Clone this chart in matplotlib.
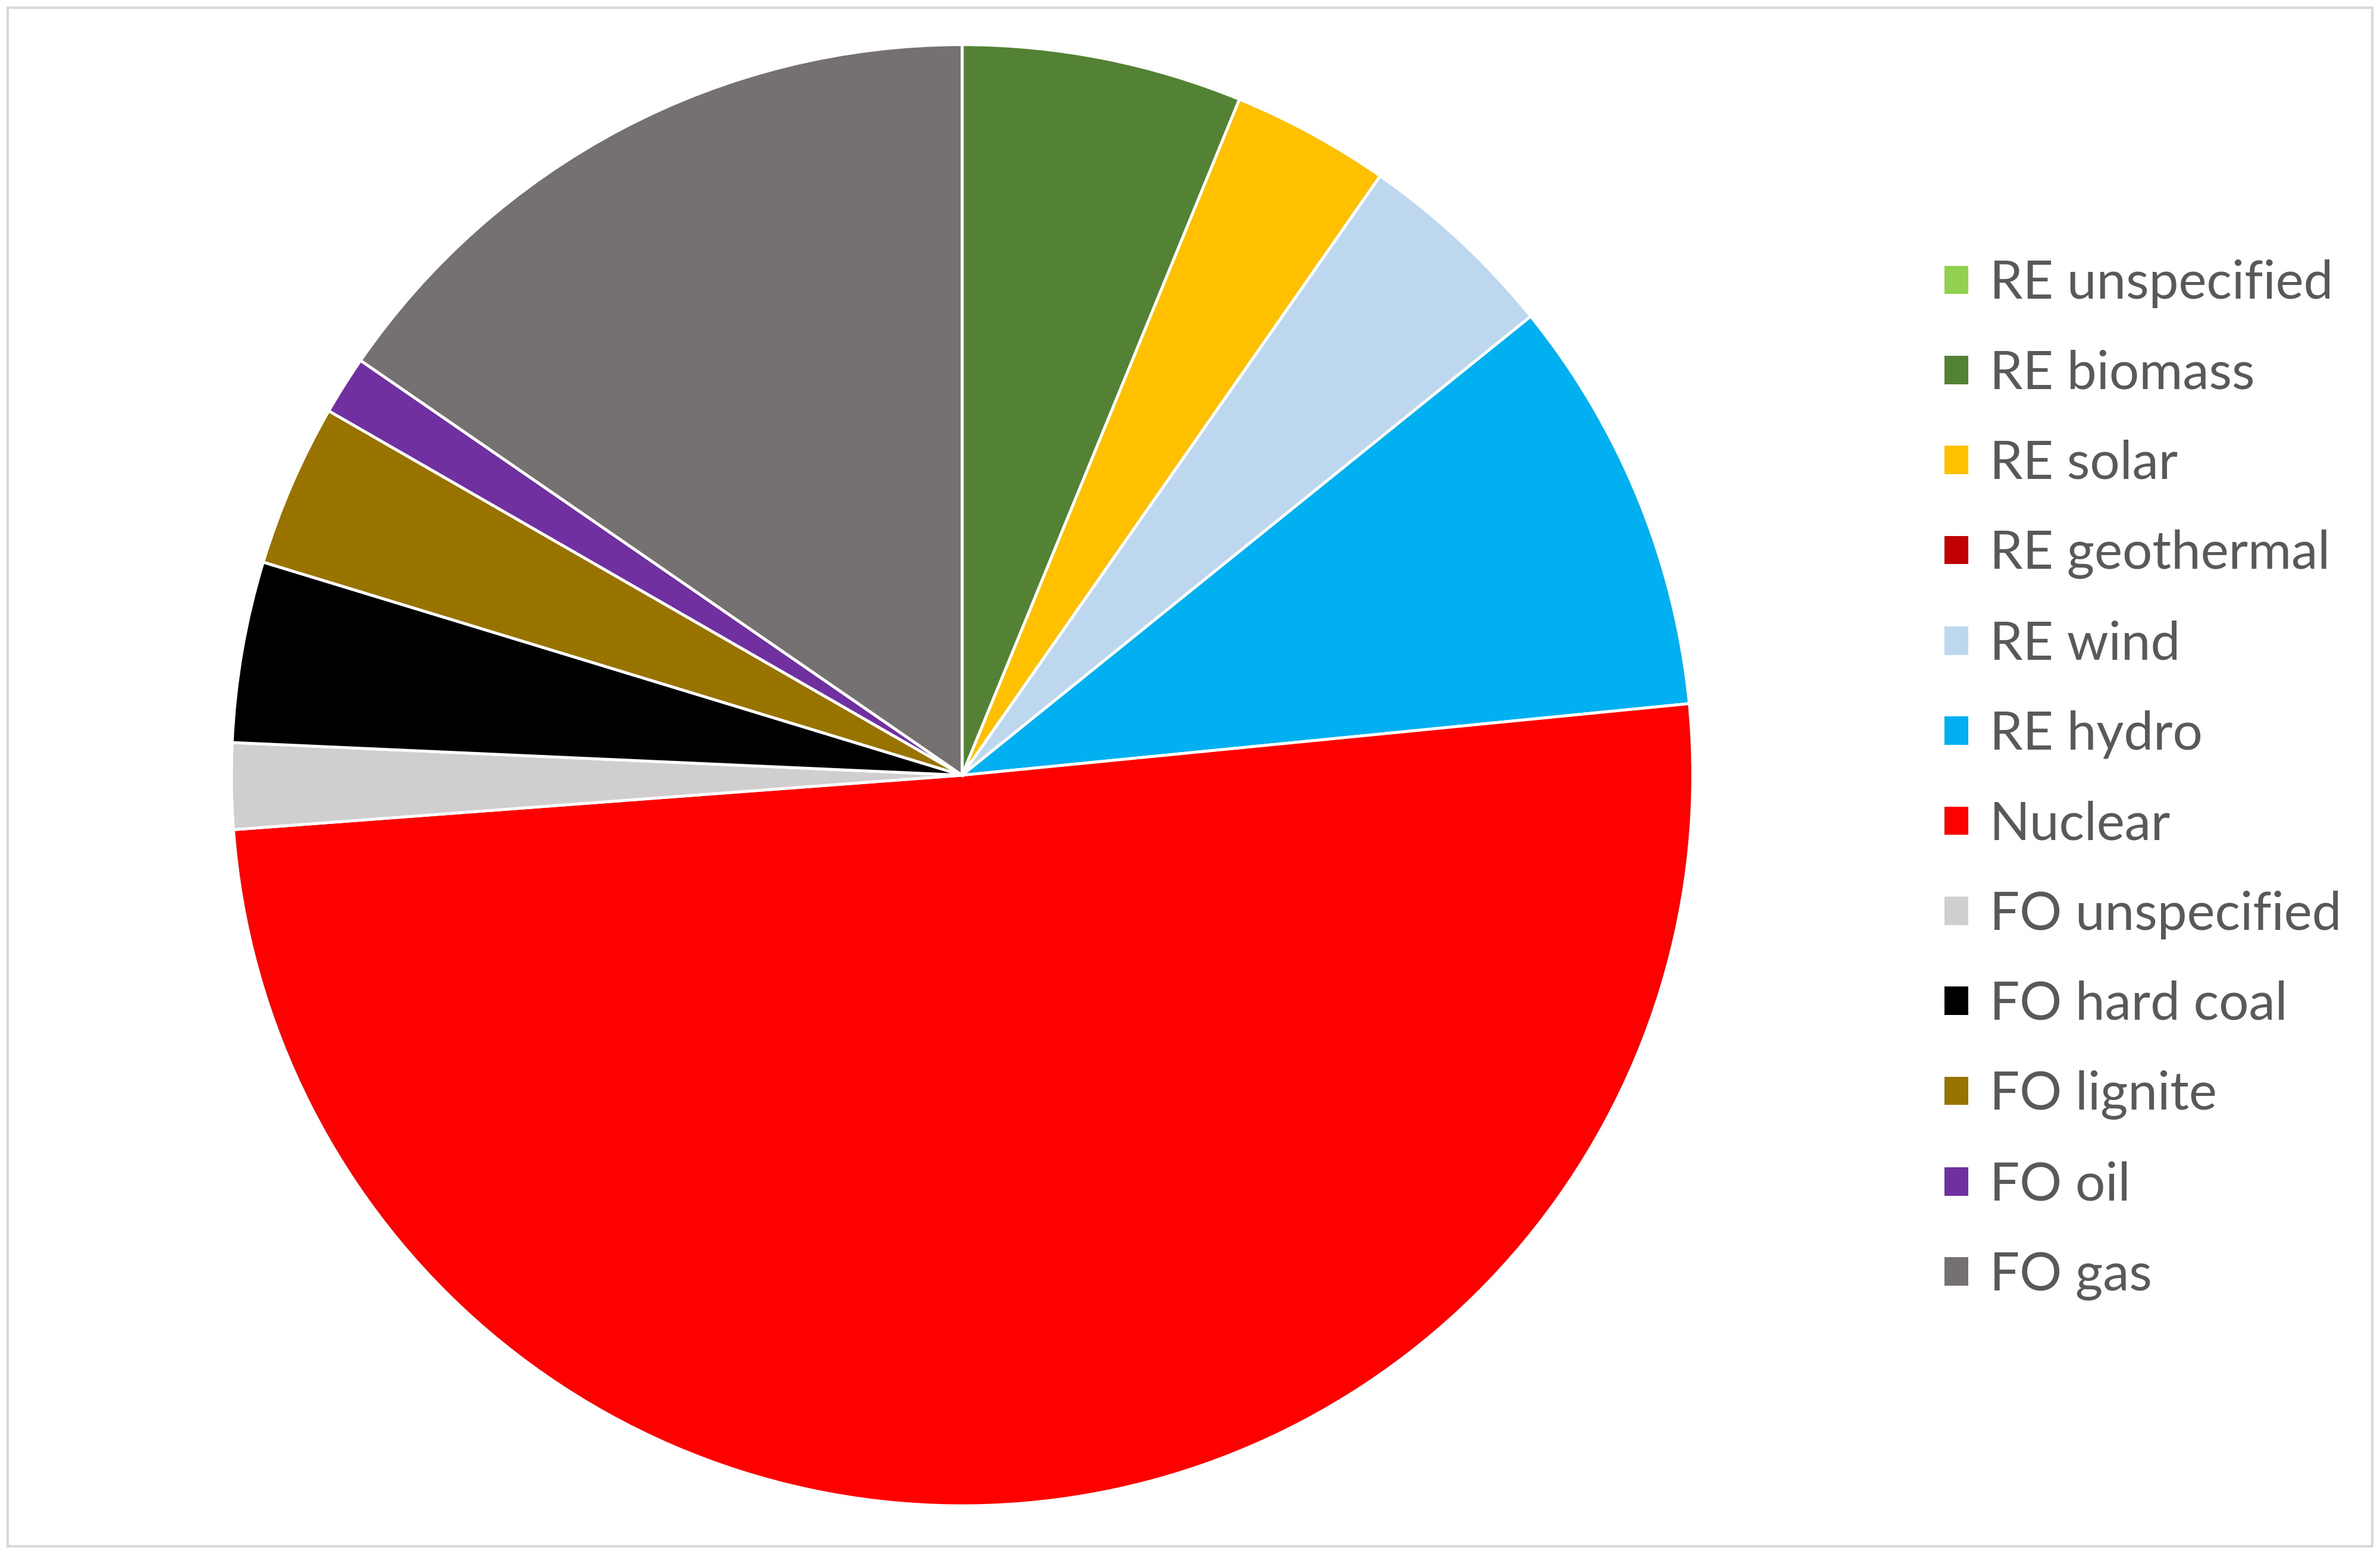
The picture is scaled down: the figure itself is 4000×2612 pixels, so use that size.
import matplotlib.pyplot as plt
from matplotlib.patches import Rectangle

labels = ['RE unspecified', 'RE biomass', 'RE solar', 'RE geothermal', 'RE wind',
          'RE hydro', 'Nuclear', 'FO unspecified', 'FO hard coal', 'FO lignite',
          'FO oil', 'FO gas']
shares = [0.0, 6.2, 3.5, 0.0, 4.5, 9.25, 50.4, 1.9, 4.0, 3.6, 1.3, 15.4]
colors = ['#92D050', '#548235', '#FFC000', '#C00000', '#BDD7EE', '#00B0F0',
          '#FF0000', '#D0CECE', '#000000', '#997300', '#7030A0', '#767171']

plt.rcParams['font.family'] = ['Lato', 'DejaVu Sans']

W, H = 4000, 2612
fig = plt.figure(figsize=(W / 100, H / 100), dpi=100)

# pie area (centre ~ (1617, 1303) px, radius ~1228 px)
cx, cy, r = 1617, 1303, 1228
ax = fig.add_axes([(cx - r) / W, (H - cy - r) / H, 2 * r / W, 2 * r / H])
wedges, _ = ax.pie(shares, colors=colors, startangle=90, counterclock=False,
                   wedgeprops=dict(edgecolor='white', linewidth=3.5))
ax.set_xlim(-1, 1)
ax.set_ylim(-1, 1)
ax.set_aspect('equal')

handles = [Rectangle((0, 0), 1, 1, facecolor=c) for c in colors]
fig.legend(handles, labels, loc='upper left', bbox_to_anchor=(0.817, 0.833),
           frameon=False, fontsize=64, labelcolor='#595959',
           handlelength=0.45, handleheight=0.45, handletextpad=0.4,
           labelspacing=0.78, borderpad=0, borderaxespad=0)

# light grey chart border
fig.patches.append(Rectangle((13 / W, 13 / H), 1 - 26 / W, 1 - 26 / H,
                             transform=fig.transFigure, fill=False,
                             edgecolor='#D9D9D9', linewidth=3))

fig.savefig('out.png', dpi=100, facecolor='white')
